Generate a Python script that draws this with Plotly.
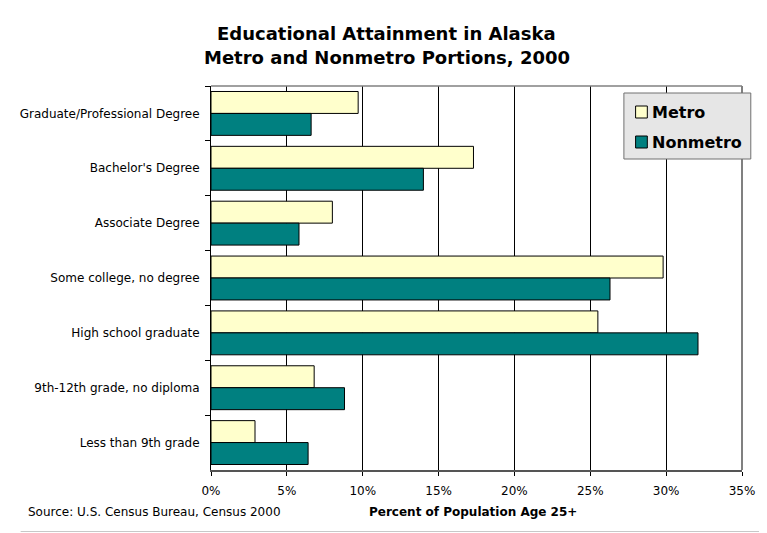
import plotly.graph_objects as go

# Educational attainment, Alaska 2000 (percent of population age 25+)
CATEGORIES = [
    "Graduate/Professional Degree",
    "Bachelor's Degree",
    "Associate Degree",
    "Some college, no degree",
    "High school graduate",
    "9th-12th grade, no diploma",
    "Less than 9th grade",
]
METRO = [9.7, 17.3, 8.0, 29.8, 25.5, 6.8, 2.9]
NONMETRO = [6.6, 14.0, 5.8, 26.3, 32.1, 8.8, 6.4]
X_TICKS = [0, 5, 10, 15, 20, 25, 30, 35]
X_LABELS = [f"{v}%" for v in X_TICKS]
TITLE_LINES = ["Educational Attainment in Alaska", "Metro and Nonmetro Portions, 2000"]

METRO_COLOR = "#FFFFCC"
NONMETRO_COLOR = "#008080"
FONT = "DejaVu Sans"

# the page puts the figure 8px in from the top left corner
OFF = 8
W, H = 767 - OFF, 533 - OFF
# plot area, in page pixels
L, R, T, B = 203, 747, 86, 470


def px_x(x):
    return (x - L) / (R - L)


def px_y(y):
    return (B - y) / (B - T)


fig = go.Figure()
fig.add_trace(go.Bar(
    y=CATEGORIES, x=METRO, name="Metro", orientation="h",
    marker=dict(color=METRO_COLOR, line=dict(color="#000000", width=1)),
))
fig.add_trace(go.Bar(
    y=CATEGORIES, x=NONMETRO, name="Nonmetro", orientation="h",
    marker=dict(color=NONMETRO_COLOR, line=dict(color="#000000", width=1)),
))

fig.update_layout(
    width=W, height=H,
    margin=dict(l=L - OFF, r=W - (R - OFF), t=T - OFF, b=H - (B - OFF), pad=0),
    paper_bgcolor="white",
    plot_bgcolor="white",
    barmode="group",
    bargap=0.2,
    bargroupgap=0,
    showlegend=False,
    font=dict(family=FONT, size=12, color="#000000"),
)

fig.update_xaxes(
    range=[0, 35], tickvals=X_TICKS, ticktext=X_LABELS,
    showgrid=True, gridcolor="#000000", gridwidth=1,
    showline=True, linecolor="#555555", linewidth=2,
    ticks="outside", ticklen=4, tickcolor="#000000",
    ticklabelstandoff=5, zeroline=False,
    tickfont=dict(family=FONT, size=12),
)
fig.update_yaxes(
    autorange="reversed", type="category",
    showline=True, linecolor="#000000", linewidth=1,
    ticks="outside", ticklen=5, tickcolor="#000000", tickson="boundaries",
    ticklabelstandoff=8, showgrid=False,
    tickfont=dict(family=FONT, size=12),
)

# title, two centred lines
for text, yc in zip(TITLE_LINES, [34, 57]):
    fig.add_annotation(
        text=f"<b>{text}</b>", xref="paper", yref="paper",
        x=px_x(383), y=px_y(yc), xanchor="center", yanchor="middle",
        showarrow=False, font=dict(family=FONT, size=18, color="#000000"),
    )

# plot area border (top/right gray) and bottom of chart frame
fig.add_shape(type="line", xref="paper", yref="paper", x0=0, x1=1, y0=1, y1=1,
              line=dict(color="#808080", width=1.5))
fig.add_shape(type="line", xref="paper", yref="paper", x0=1, x1=1, y0=0, y1=1,
              line=dict(color="#808080", width=2))
fig.add_shape(type="line", xref="paper", yref="paper",
              x0=px_x(8), x1=px_x(767), y0=px_y(531.5), y1=px_y(531.5),
              line=dict(color="#C8C8C8", width=1))

# legend box
fig.add_shape(type="rect", xref="paper", yref="paper",
              x0=px_x(626), x1=px_x(756), y0=px_y(93), y1=px_y(159),
              fillcolor="#E6E6E6", line=dict(color="#707070", width=1))
for name, color, yc in [("Metro", METRO_COLOR, 112), ("Nonmetro", NONMETRO_COLOR, 142)]:
    fig.add_shape(type="rect", xref="paper", yref="paper",
                  x0=px_x(638), x1=px_x(650), y0=px_y(yc + 6), y1=px_y(yc - 6),
                  fillcolor=color, line=dict(color="#000000", width=1))
    fig.add_annotation(
        text=f"<b>{name}</b>", xref="paper", yref="paper",
        x=px_x(653), y=px_y(yc), xanchor="left", yanchor="middle",
        showarrow=False, font=dict(family=FONT, size=16, color="#000000"),
    )

fig.add_annotation(
    text="Source: U.S. Census Bureau, Census 2000",
    xref="paper", yref="paper", x=px_x(13), y=px_y(512),
    xanchor="left", yanchor="middle", showarrow=False,
    font=dict(family=FONT, size=12, color="#000000"),
)
fig.add_annotation(
    text="<b>Percent of Population Age 25+</b>",
    xref="paper", yref="paper", x=px_x(363), y=px_y(512),
    xanchor="left", yanchor="middle", showarrow=False,
    font=dict(family=FONT, size=12, color="#000000"),
)

fig.write_html("out.html")
